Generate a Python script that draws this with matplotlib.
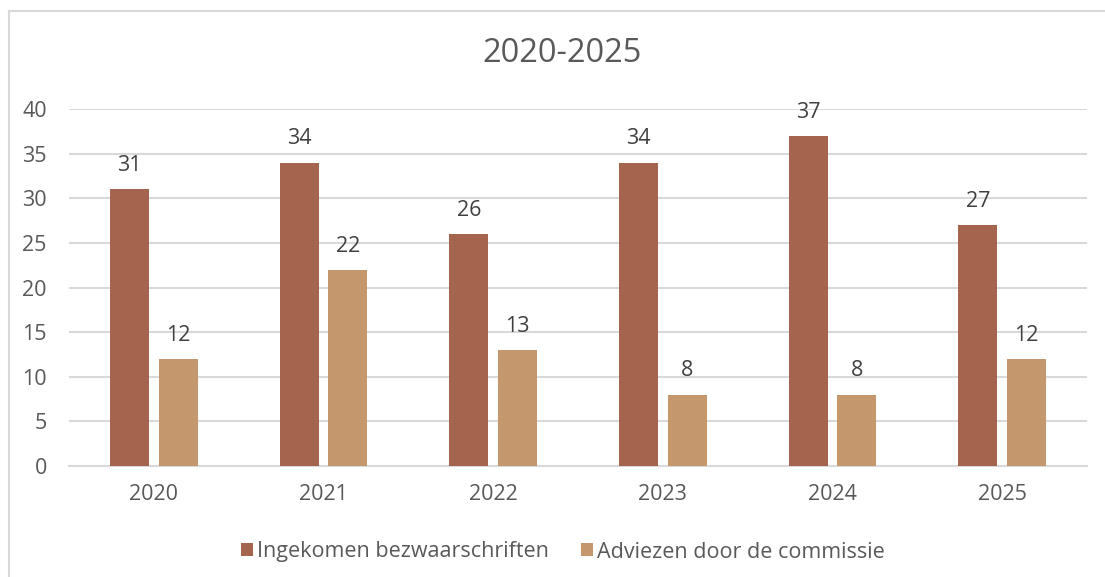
import numpy as np
import matplotlib.pyplot as plt
from matplotlib.lines import Line2D

years = ["2020", "2021", "2022", "2023", "2024", "2025"]
ingekomen = [31, 34, 26, 34, 37, 27]
adviezen = [12, 22, 13, 8, 8, 12]
series_names = ["Ingekomen bezwaarschriften", "Adviezen door de commissie"]

brown = "#A5644E"
tan = "#C4976C"
txt = "#595959"
grid = "#D9D9D9"

plt.rcParams['font.family'] = ['Open Sans', 'DejaVu Sans']

fig = plt.figure(figsize=(11.05, 5.77), dpi=100)
ax = fig.add_axes([69/1105, 1-466/577, (1087-69)/1105, (466-109)/577])

x = np.arange(len(years))
w = 0.23
off = 0.143
b1 = ax.bar(x - off, ingekomen, w, color=brown, label=series_names[0], zorder=3)
b2 = ax.bar(x + off, adviezen, w, color=tan, label=series_names[1], zorder=3)

for bars in (b1, b2):
    for r in bars:
        ax.annotate(str(int(r.get_height())), (r.get_x() + r.get_width()/2, r.get_height()),
                    xytext=(0, 17), textcoords="offset points", ha="center", va="center",
                    fontsize=15.5, color="#404040")

ax.set_xlim(-0.5, len(years) - 0.5)
ax.set_ylim(0, 40)
ax.set_yticks(range(0, 41, 5))
ax.set_xticks(x)
ax.set_xticklabels(years)
ax.yaxis.grid(True, color=grid, linewidth=1.5, zorder=0)
for s in ["top", "right", "left"]:
    ax.spines[s].set_visible(False)
ax.spines["bottom"].set_color(grid)
ax.spines["bottom"].set_linewidth(1.5)
ax.tick_params(axis="both", length=0, labelsize=15.5, colors=txt)
ax.tick_params(axis="y", pad=16)
ax.tick_params(axis="x", pad=13)

fig.text(562/1105, 1-53/577, "2020-2025", ha="center", va="center", fontsize=23.5, color=txt)

fig.legend(handles=[b1, b2], loc="center", bbox_to_anchor=(563/1105, 1-552/577), ncol=2,
           frameon=False, fontsize=15.5, labelcolor=txt, handlelength=0.55, handleheight=0.55,
           handletextpad=0.2, columnspacing=1.5)

# chart area border (cut off at right and bottom)
fig.add_artist(Line2D([9/1105, 1], [1-11/577]*2, color=grid, linewidth=1.5, transform=fig.transFigure))
fig.add_artist(Line2D([9/1105]*2, [0, 1-11/577], color=grid, linewidth=1.5, transform=fig.transFigure))

fig.savefig("out.png", dpi=100)
